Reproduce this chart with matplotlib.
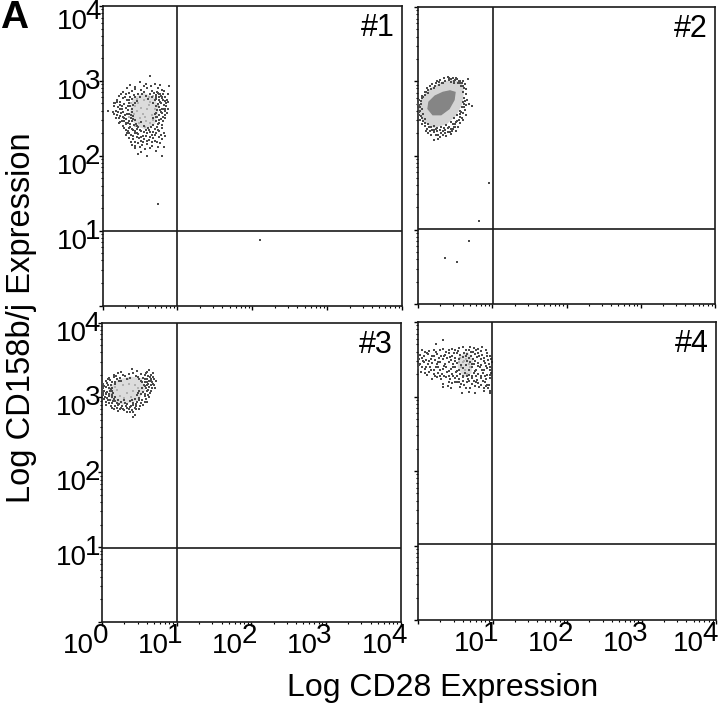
import matplotlib
matplotlib.use('Agg')
import matplotlib.pyplot as plt
import numpy as np

plt.rcParams['font.family'] = ['Liberation Sans', 'DejaVu Sans']

W, H = 720, 710

# values below are log10 of the fluorescence
p1_dots = [(.64,3.07),(.89,2.93),(.07,2.60),(.14,2.59),(.15,2.70),(.59,2.00),(.79,2.00),(.47,2.02),(.52,2.05),
    (.37,2.95),(.50,2.98),(.56,2.93),(.70,2.96),(.33,2.90),(.44,2.92),(.52,2.88),(.60,2.90),(.66,2.87),(.74,2.91),(.80,2.88),
    (.28,2.85),(.40,2.86),(.47,2.83),(.55,2.85),(.63,2.82),(.69,2.84),(.76,2.83),(.82,2.86),(.22,2.80),(.31,2.82),(.37,2.79),
    (.42,2.81),(.50,2.78),(.58,2.80),(.66,2.79),(.71,2.81),(.75,2.78),(.78,2.80),(.84,2.79),(.19,2.75),(.27,2.77),(.33,2.74),
    (.39,2.76),(.46,2.73),(.72,2.76),(.76,2.74),(.79,2.77),(.83,2.73),(.86,2.75),(.17,2.70),(.24,2.72),(.29,2.69),(.35,2.71),
    (.41,2.68),(.68,2.70),(.74,2.69),(.78,2.71),(.82,2.68),(.85,2.70),(.21,2.65),(.26,2.67),(.31,2.64),(.37,2.66),(.76,2.65),
    (.81,2.63),(.85,2.66),(.18,2.60),(.23,2.62),(.28,2.59),(.34,2.61),(.39,2.58),(.73,2.61),(.78,2.58),(.83,2.60),(.87,2.62),
    (.20,2.55),(.25,2.57),(.30,2.54),(.36,2.56),(.41,2.53),(.70,2.56),(.75,2.54),(.80,2.57),(.84,2.54),(.22,2.50),(.27,2.52),
    (.32,2.49),(.38,2.51),(.43,2.48),(.68,2.50),(.73,2.52),(.78,2.49),(.83,2.51),(.24,2.45),(.29,2.47),(.34,2.44),(.40,2.46),
    (.45,2.43),(.52,2.45),(.71,2.46),(.76,2.44),(.81,2.47),(.27,2.40),(.32,2.42),(.37,2.39),(.42,2.41),(.48,2.38),(.55,2.40),
    (.61,2.37),(.67,2.41),(.73,2.39),(.79,2.41),(.31,2.35),(.36,2.37),(.41,2.34),(.46,2.36),(.52,2.33),(.58,2.35),(.64,2.32),
    (.70,2.36),(.76,2.33),(.33,2.30),(.38,2.28),(.43,2.31),(.48,2.29),(.54,2.27),(.60,2.30),(.66,2.28),(.72,2.31),(.78,2.28),
    (.84,2.26),(.36,2.24),(.41,2.22),(.46,2.25),(.51,2.20),(.56,2.23),(.62,2.21),(.68,2.24),(.73,2.19),(.80,2.22),(.40,2.15),
    (.47,2.17),(.53,2.14),(.60,2.16),(.66,2.13),(.74,2.12),(.44,2.10),(.57,2.09),(.71,2.07),
    (.74,2.84),(.77,2.82),(.79,2.78),(.72,2.79),(.75,2.75),(.77,2.72),
    (.74,1.35),(2.10,.87)]
p1_extra = [(.43,2.89),(.58,2.96),(.65,2.93),(.77,2.94),(.35,2.84),(.25,2.83),(.44,2.78),(.53,2.82),(.61,2.76),(.73,2.85),
    (.81,2.82),(.87,2.82),(.20,2.72),(.30,2.79),(.36,2.75),(.44,2.71),(.70,2.74),(.81,2.74),(.88,2.72),(.16,2.66),(.23,2.68),
    (.34,2.67),(.40,2.63),(.71,2.66),(.79,2.63),(.84,2.63),(.16,2.56),(.21,2.59),(.26,2.62),(.33,2.56),(.38,2.55),(.72,2.57),
    (.77,2.61),(.86,2.57),(.18,2.51),(.24,2.53),(.29,2.50),(.35,2.47),(.41,2.49),(.71,2.52),(.76,2.48),(.81,2.52),(.22,2.44),
    (.26,2.47),(.31,2.44),(.37,2.43),(.46,2.40),(.65,2.38),(.74,2.43),(.80,2.37),(.29,2.37),(.34,2.33),(.39,2.36),(.44,2.33),
    (.50,2.35),(.56,2.32),(.62,2.34),(.68,2.32),(.74,2.35),(.31,2.28),(.36,2.31),(.41,2.27),(.46,2.30),(.52,2.25),(.58,2.27),
    (.64,2.25),(.70,2.28),(.76,2.25),(.82,2.30),(.38,2.19),(.44,2.19),(.49,2.24),(.54,2.18),(.60,2.20),(.66,2.18),(.70,2.20),
    (.77,2.17),(.43,2.13),(.50,2.12),(.63,2.10),(.82,2.12)]
p1_pale = [(.48,2.70),(.55,2.74),(.62,2.68),(.46,2.60),(.54,2.56),(.60,2.62),(.66,2.55),(.50,2.50),(.58,2.47),(.64,2.72),
    (.70,2.62),(.44,2.66),(.52,2.64),(.57,2.52),(.63,2.44),(.68,2.48),(.49,2.44),(.42,2.56),(.38,2.70),(.46,2.76),(.35,2.52),
    (.74,2.66),(.67,2.80),(.44,2.40),(.57,2.38),(.62,2.78)]
p1_core = [(.42,2.76),(.55,2.82),(.69,2.76),(.73,2.60),(.69,2.44),(.58,2.37),(.46,2.41),(.38,2.55)]

p2_dots = [(.36,.62),(.53,.57),(.69,.85),(.82,1.12),(.95,1.63),
    (.35,3.05),(.40,3.06),(.47,3.05),(.53,3.03),(.61,3.00),(.25,3.01),(.30,3.02),(.36,3.01),(.42,3.02),(.48,3.00),(.55,3.01),
    (.51,3.05),(.57,2.98),(.63,2.96),(.68,3.03),(.19,2.96),(.24,2.97),(.28,2.95),(.32,2.98),(.45,2.99),(.50,3.02),(.54,2.97),
    (.60,2.94),(.64,2.90),(.12,2.91),(.16,2.93),(.21,2.91),(.09,2.86),(.14,2.88),(.61,2.86),(.65,2.83),(.69,2.70),(.73,2.67),
    (.05,2.80),(.09,2.82),(.13,2.84),(.62,2.78),(.66,2.75),(.02,2.75),(.06,2.77),(.60,2.72),(.65,2.68),(.01,2.68),(.04,2.70),
    (.59,2.65),(.63,2.61),(.00,2.62),(.03,2.60),(.06,2.63),(.56,2.60),(.60,2.57),(.64,2.54),(.01,2.55),(.04,2.53),(.07,2.56),
    (.53,2.55),(.57,2.52),(.61,2.48),(.03,2.48),(.07,2.46),(.10,2.49),(.49,2.50),(.53,2.47),(.57,2.44),(.06,2.42),(.10,2.40),
    (.14,2.43),(.45,2.45),(.50,2.42),(.54,2.39),(.12,2.36),(.17,2.38),(.21,2.40),(.26,2.37),(.31,2.39),(.38,2.41),(.42,2.38),
    (.47,2.36),(.51,2.33),(.16,2.33),(.21,2.31),(.26,2.33),(.31,2.30),(.36,2.34),(.40,2.32),(.45,2.29),(.24,2.27),(.29,2.25),
    (.33,2.28),(.38,2.26),(.21,2.21),(.27,2.22),(.18,2.27),(.13,2.30),(.58,2.93),(.42,3.04),(.03,2.65),(.62,2.70)]
p2_extra = [(.44,3.03),(.49,2.98),(.56,3.00),(.59,2.97),(.62,2.91),(.28,2.99),(.34,2.97),(.17,2.90),(.23,2.94),(.11,2.85),
    (.07,2.79),(.04,2.74),(.63,2.74),(.62,2.65),(.58,2.59),(.59,2.50),(.55,2.48),(.51,2.45),(.47,2.43),(.56,2.56),(.48,2.39),
    (.44,2.36),(.40,2.37),(.35,2.37),(.30,2.35),(.24,2.36),(.19,2.35),(.15,2.38),(.09,2.44),(.05,2.50),(.02,2.58),(.00,2.70),
    (.50,2.38),(.43,2.32),(.37,2.30),(.27,2.28),(.22,2.34),(.33,2.33),(.11,2.33),(.46,2.33)]
p2_ring = [(.575,2.97),(.60,2.86),(.58,2.70),(.50,2.55),(.38,2.44),(.22,2.39),(.08,2.47),(.02,2.62),(.07,2.78),
    (.19,2.90),(.34,2.98),(.49,3.00)]
p2_core = [(.498,2.85),(.485,2.75),(.418,2.63),(.31,2.55),(.20,2.55),(.135,2.63),(.148,2.72),(.229,2.80),(.337,2.85),(.431,2.87)]

p3_dots = [(.40,3.38),(.63,3.37),(.60,3.34),(.68,3.33),(.72,3.22),(.70,3.16),(.41,2.74),(.44,2.77),(.37,2.80),
    (.16,3.30),(.22,3.32),(.28,3.30),(.36,3.31),(.45,3.29),(.52,3.31),(.57,3.30),(.62,3.28),(.66,3.30),(.10,3.26),(.16,3.27),
    (.24,3.26),(.31,3.28),(.38,3.26),(.48,3.27),(.55,3.26),(.60,3.25),(.65,3.24),(.68,3.27),(.05,3.22),(.11,3.23),(.17,3.21),
    (.23,3.22),(.52,3.22),(.58,3.21),(.63,3.22),(.67,3.20),(.02,3.18),(.07,3.19),(.12,3.17),(.18,3.18),(.56,3.17),(.61,3.18),
    (.65,3.16),(.69,3.18),(.01,3.13),(.05,3.14),(.09,3.12),(.14,3.13),(.54,3.13),(.59,3.12),(.63,3.14),(.67,3.12),(.00,3.08),
    (.03,3.09),(.07,3.07),(.11,3.08),(.15,3.06),(.50,3.09),(.55,3.07),(.60,3.08),(.64,3.06),(.02,3.03),(.06,3.04),(.10,3.02),
    (.14,3.03),(.18,3.01),(.47,3.03),(.52,3.04),(.57,3.02),(.62,3.03),(.03,2.98),(.07,2.99),(.11,2.97),(.16,2.98),(.21,2.97),
    (.44,2.98),(.49,2.99),(.54,2.97),(.59,2.98),(.05,2.94),(.10,2.93),(.15,2.95),(.20,2.93),(.25,2.94),(.31,2.93),(.37,2.95),
    (.42,2.93),(.47,2.94),(.52,2.92),(.57,2.94),(.12,2.89),(.17,2.88),(.22,2.90),(.27,2.88),(.32,2.89),(.37,2.87),(.42,2.90),
    (.46,2.88),(.51,2.89),(.16,2.84),(.24,2.85),(.30,2.83),(.36,2.85),(.40,2.83),(.45,2.84),(.33,2.80),(.47,3.35),(.09,3.02),
    (.13,3.09),(.57,3.25),(.60,3.16),(.25,2.86),(.44,2.86)]
p3_extra = [(.19,3.28),(.26,3.34),(.33,3.25),(.42,3.33),(.50,3.25),(.59,3.32),(.64,3.27),(.70,3.24),(.08,3.24),(.13,3.20),
    (.20,3.24),(.26,3.22),(.54,3.20),(.60,3.20),(.66,3.22),(.71,3.13),(.03,3.15),(.08,3.16),(.12,3.11),(.57,3.15),(.62,3.10),
    (.66,3.08),(.01,3.06),(.05,3.06),(.09,3.05),(.13,3.00),(.48,3.06),(.58,3.05),(.63,3.00),(.04,3.01),(.08,2.96),(.13,2.92),
    (.18,2.95),(.23,2.91),(.29,2.96),(.34,2.91),(.40,2.96),(.45,2.91),(.50,2.96),(.55,2.90),(.60,2.94),(.14,2.86),(.20,2.86),
    (.28,2.85),(.34,2.86),(.39,2.88),(.49,2.85),(.06,2.90),(.22,2.82),(.42,2.80)]
p3_pale = [(.20,3.10),(.28,3.16),(.36,3.18),(.44,3.16),(.24,3.02),(.33,3.06),(.41,3.08),(.30,2.99),(.39,3.01),(.13,3.05),
    (.17,3.14),(.48,3.12),(.35,3.24)]
p3_core = [(.10,3.12),(.22,3.22),(.38,3.26),(.52,3.24),(.56,3.10),(.46,2.97),(.28,2.92),(.14,2.97)]

p4_dots = [(.33,3.76),(.24,3.70),
    (.05,3.62),(.10,3.60),(.15,3.61),(.21,3.63),(.30,3.62),(.37,3.60),(.45,3.64),(.50,3.62),(.55,3.65),(.60,3.66),(.65,3.63),
    (.70,3.67),(.75,3.65),(.80,3.64),(.86,3.66),(.91,3.63),(.03,3.56),(.08,3.54),(.14,3.57),(.19,3.55),(.26,3.57),(.31,3.55),
    (.36,3.56),(.41,3.58),(.46,3.55),(.52,3.59),(.57,3.56),(.62,3.59),(.66,3.57),(.71,3.60),(.76,3.57),(.81,3.59),(.86,3.56),
    (.92,3.58),(.96,3.54),(.01,3.50),(.06,3.52),(.11,3.49),(.17,3.51),(.23,3.49),(.28,3.52),(.33,3.50),(.39,3.52),(.44,3.49),
    (.50,3.52),(.55,3.50),(.60,3.53),(.69,3.52),(.74,3.50),(.79,3.53),(.84,3.50),(.89,3.52),(.94,3.49),(.98,3.51),(.03,3.44),
    (.08,3.46),(.13,3.43),(.19,3.45),(.25,3.43),(.30,3.46),(.36,3.44),(.41,3.46),(.47,3.43),(.53,3.45),(.58,3.42),(.70,3.46),
    (.75,3.43),(.80,3.45),(.85,3.42),(.90,3.45),(.95,3.43),(.99,3.46),(.00,3.38),(.05,3.40),(.10,3.37),(.16,3.39),(.22,3.36),
    (.27,3.39),(.33,3.37),(.38,3.40),(.44,3.37),(.50,3.39),(.55,3.36),(.60,3.38),(.68,3.36),(.73,3.39),(.78,3.36),(.83,3.39),
    (.88,3.36),(.93,3.38),(.97,3.35),(.04,3.33),(.09,3.31),(.15,3.33),(.21,3.30),(.27,3.32),(.32,3.30),(.39,3.33),(.45,3.30),
    (.51,3.33),(.57,3.30),(.63,3.32),(.69,3.29),(.75,3.32),(.81,3.30),(.87,3.32),(.93,3.29),(.98,3.31),(.19,3.24),(.25,3.26),
    (.31,3.24),(.37,3.26),(.43,3.23),(.49,3.25),(.55,3.23),(.61,3.26),(.67,3.23),(.73,3.25),(.79,3.22),(.85,3.25),(.91,3.23),
    (.96,3.25),(.46,3.18),(.52,3.20),(.58,3.17),(.62,3.15),(.66,3.19),(.72,3.17),(.78,3.19),(.84,3.16),(.90,3.19),(.95,3.16),
    (.33,3.17),(.34,3.13),(.40,3.14),(.44,3.12),(.56,3.13),(.70,3.12),(.82,3.13),(.88,3.11),(.94,3.12),(.96,3.08),
    (.59,3.05),(.69,3.06),(.76,3.05),(.89,3.08),(.97,3.05),(.64,3.54),(.66,3.48),(.64,3.42)]
p4_extra = [(.12,3.58),(.24,3.60),(.34,3.64),(.42,3.62),(.48,3.58),(.54,3.61),(.68,3.63),(.74,3.60),(.78,3.62),(.84,3.61),
    (.07,3.48),(.15,3.47),(.21,3.54),(.27,3.46),(.35,3.54),(.43,3.53),(.49,3.47),(.71,3.55),(.77,3.48),(.82,3.55),(.88,3.47),
    (.93,3.54),(.02,3.42),(.11,3.40),(.17,3.35),(.24,3.40),(.29,3.35),(.35,3.41),(.42,3.34),(.47,3.40),(.53,3.34),(.72,3.44),
    (.76,3.34),(.81,3.41),(.86,3.35),(.91,3.41),(.96,3.40),(.12,3.29),(.23,3.27),(.29,3.28),(.35,3.28),(.41,3.28),(.47,3.27),
    (.53,3.28),(.60,3.28),(.66,3.27),(.72,3.28),(.78,3.28),(.84,3.28),(.90,3.27),(.96,3.29),(.41,3.20),(.49,3.20),(.55,3.20),
    (.61,3.21),(.69,3.21),(.75,3.21),(.81,3.18),(.87,3.21),(.92,3.16),(.64,3.12),(.76,3.14),(.91,3.14)]
p4_pale = [(.56,3.52),(.60,3.46),(.64,3.50),(.68,3.44),(.58,3.40),(.63,3.36),(.66,3.30),(.62,3.48),(.55,3.46),(.70,3.40)]
p4_core = [(.56,3.52),(.66,3.58),(.72,3.48),(.70,3.32),(.62,3.28),(.55,3.40)]

panel_dots = [p1_dots + p1_extra, p2_dots + p2_extra, p3_dots + p3_extra, p4_dots + p4_extra]
panel_pale = [p1_pale, [], p3_pale, p4_pale]
panel_core = [p1_core, None, p3_core, p4_core]

gate_x = [9.9, 10.2, 10.0, 9.9]
gate_y = [10.0, 10.2, 9.7, 10.5]
names = ['#1', '#2', '#3', '#4']

# axes boxes in pixels: left, right, top, bottom
boxes = [(102.5, 402, 6, 305.5), (418, 715, 7, 304), (102, 400.5, 322.5, 622), (418, 716, 322, 620)]
decades = [0, 1, 2, 3, 4]


def log_label(ax, axis, d, base_dx, base_dy, exp_dx, exp_dy):
    if axis == 'x':
        xy, crd = (10.0**d, 0), ('data', 'axes fraction')
    else:
        xy, crd = (0, 10.0**d), ('axes fraction', 'data')
    ax.annotate('10', xy=xy, xycoords=crd, xytext=(base_dx, base_dy), textcoords='offset pixels',
                ha='right', va='baseline', fontsize=20, annotation_clip=False)
    ax.annotate(str(d), xy=xy, xycoords=crd, xytext=(exp_dx, exp_dy), textcoords='offset pixels',
                ha='right', va='baseline', fontsize=20, annotation_clip=False)


fig = plt.figure(figsize=(W / 100, H / 100), dpi=100)

for i, (l, r, t, b) in enumerate(boxes):
    ax = fig.add_axes([l / W, 1 - b / H, (r - l) / W, (b - t) / H])
    ax.set_xscale('log')
    ax.set_yscale('log')
    ax.set_xlim(1, 1e4)
    ax.set_ylim(1, 1e4)
    for s in ax.spines.values():
        s.set_linewidth(1.2)
        s.set_color('#1a1a1a')
    ax.xaxis.set_major_locator(matplotlib.ticker.LogLocator(base=10, numticks=6))
    ax.yaxis.set_major_locator(matplotlib.ticker.LogLocator(base=10, numticks=6))
    ax.xaxis.set_minor_locator(matplotlib.ticker.LogLocator(base=10, subs=np.arange(2, 10), numticks=6))
    ax.yaxis.set_minor_locator(matplotlib.ticker.LogLocator(base=10, subs=np.arange(2, 10), numticks=6))
    ax.xaxis.set_minor_formatter(matplotlib.ticker.NullFormatter())
    ax.yaxis.set_minor_formatter(matplotlib.ticker.NullFormatter())
    ax.tick_params(which='major', length=3, width=1, labelbottom=False, labelleft=False)
    ax.tick_params(which='minor', length=1.5, width=0.8)

    if panel_core[i] is not None:
        cx, cy = zip(*panel_core[i])
        ax.fill(10.0**np.array(cx), 10.0**np.array(cy), color='#dcdcdc', lw=2, zorder=1)
    else:
        cx, cy = zip(*p2_ring)
        ax.fill(10.0**np.array(cx), 10.0**np.array(cy), color='#d4d4d4', lw=2, zorder=1)
        cx, cy = zip(*p2_core)
        ax.fill(10.0**np.array(cx), 10.0**np.array(cy), color='#858585', lw=1, zorder=2)

    if panel_pale[i]:
        px, py = zip(*panel_pale[i])
        ax.scatter(10.0**np.array(px), 10.0**np.array(py), s=2, marker='s', color='#b0b0b0', linewidths=0, zorder=3)
    dx, dy = zip(*panel_dots[i])
    ax.scatter(10.0**np.array(dx), 10.0**np.array(dy), s=2, marker='s', color='#4a4a4a', linewidths=0,
               zorder=3, clip_on=False)

    ax.axvline(gate_x[i], color='#1a1a1a', lw=1.2, zorder=4)
    ax.axhline(gate_y[i], color='#1a1a1a', lw=1.2, zorder=4)
    ax.text(0.975, 0.925, names[i], transform=ax.transAxes, ha='right', va='center', fontsize=22)

    if i in (0, 2):
        for d in decades[1:]:
            extra = 5 if i == 0 and d == 4 else 0
            log_label(ax, 'y', d, -15, -18 - extra, -2, -8 - extra)
    if i in (2, 3):
        for d in decades:
            if i == 3 and d == 0:
                continue
            shift = -4 if i == 3 and d == 4 else 0
            log_label(ax, 'x', d, -8 + shift, -31, 6 + shift, -21)

fig.text(0 / W, 1 - 28 / H, 'A', fontsize=28, fontweight='bold', ha='left', va='baseline')
fig.text(22 / W, 1 - 318 / H, 'Log CD158b/j Expression', fontsize=23.5, rotation=90, ha='center', va='center')
fig.text(443 / W, 1 - 688 / H, 'Log CD28 Expression', fontsize=23, ha='center', va='center')

fig.savefig('out.png', dpi=100)
